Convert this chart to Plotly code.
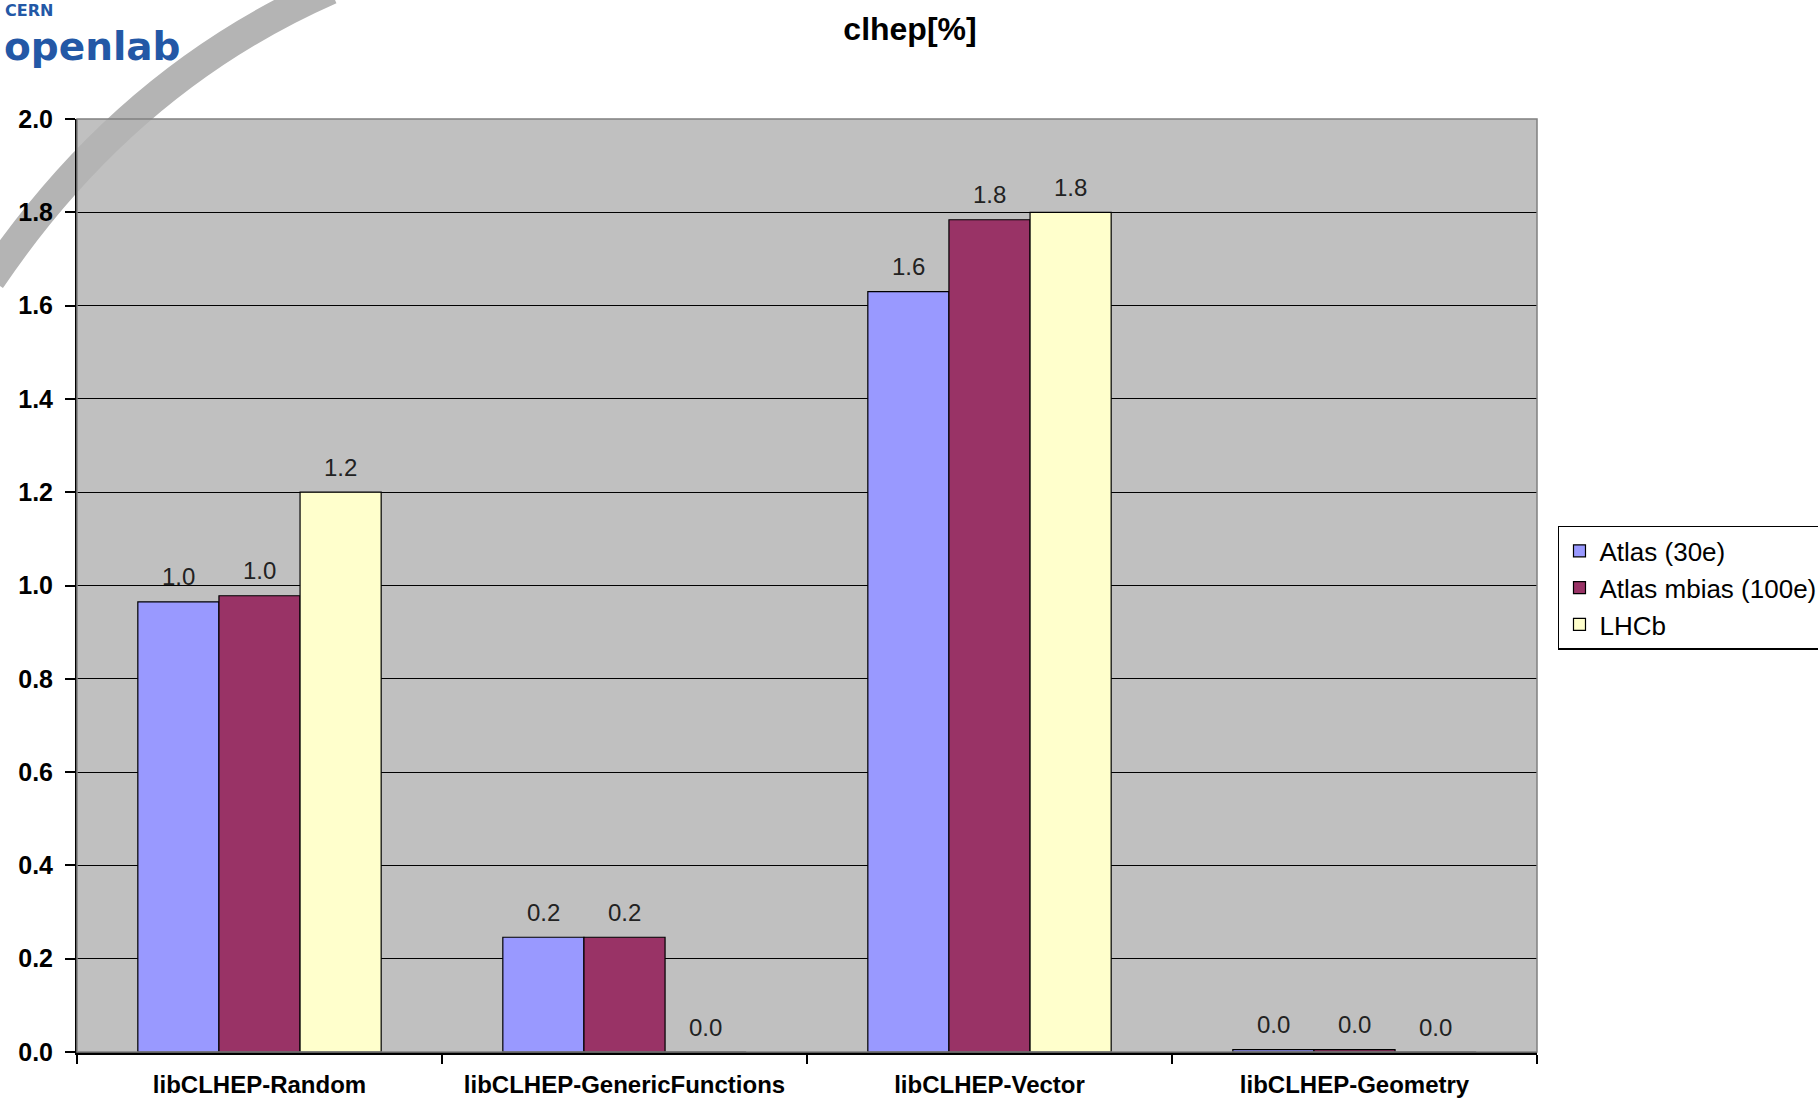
import plotly.graph_objects as go

categories = ["libCLHEP-Random", "libCLHEP-GenericFunctions", "libCLHEP-Vector", "libCLHEP-Geometry"]
series_names = ["Atlas (30e)", "Atlas mbias (100e)", "LHCb"]
atlas_30e = [0.965, 0.246, 1.63, 0.005]
atlas_mbias = [0.978, 0.246, 1.784, 0.005]
lhcb = [1.2, 0.0, 1.8, 0.0]
y_ticks = [0.0, 0.2, 0.4, 0.6, 0.8, 1.0, 1.2, 1.4, 1.6, 1.8, 2.0]
colors = ["#9999FF", "#993366", "#FFFFCC"]

W, H = 1818, 1102
L, R, T, B = 76.5, 1537, 119.4, 1051.6
pw, ph = R - L, B - T
bargap = 1.5 / 4.5
bar_px = pw / len(categories) * (1 - bargap) / len(series_names)

def px(x):
    return (x - L) / pw

def py(y):
    return (B - y) / ph

fig = go.Figure()
annotations = []
all_series = [atlas_30e, atlas_mbias, lhcb]
for i, (name, vals, col) in enumerate(zip(series_names, all_series, colors)):
    fig.add_trace(go.Bar(
        x=categories, y=vals, name=name,
        marker=dict(color=col, line=dict(color="black", width=1.2)),
        cliponaxis=False,
    ))
    for cat, v in zip(categories, vals):
        annotations.append(dict(
            x=cat, y=v, xref="x", yref="y", text=f"{v:.1f}", showarrow=False,
            xanchor="center", yanchor="middle",
            xshift=(i - 1) * bar_px, yshift=25,
            font=dict(family="Liberation Sans", size=24, color="#222222"),
        ))

# decorative grey arc (from logo background)
p0 = (330, -10); c = (125, 80); p2 = (-10, 280)
path = f"M {px(p0[0])},{py(p0[1])} Q {px(c[0])},{py(c[1])} {px(p2[0])},{py(p2[1])}"

shapes = [
    dict(type="path", path=path, xref="paper", yref="paper",
         line=dict(color="#B4B4B4", width=30), layer="below"),
    dict(type="rect", xref="paper", yref="paper", x0=0, x1=1, y0=0, y1=1,
         line=dict(color="#808080", width=1.5), layer="above"),
]

annotations += [
    dict(text="CERN", x=px(2), y=py(0), xref="paper", yref="paper",
         xanchor="left", yanchor="top", showarrow=False,
         font=dict(family="DejaVu Sans", size=16, color="#2358A6", weight="bold")),
    dict(text="openlab", x=px(1), y=py(47), xref="paper", yref="paper",
         xanchor="left", yanchor="middle", showarrow=False,
         font=dict(family="DejaVu Sans", size=39, color="#2358A6", weight="bold")),
]

fig.update_layout(
    width=W, height=H,
    margin=dict(l=L, r=W - R, t=T, b=H - B, pad=0, autoexpand=False),
    paper_bgcolor="white", plot_bgcolor="#C0C0C0",
    barmode="group", bargap=bargap, bargroupgap=0,
    title=dict(text="<b>clhep[%]</b>", x=910 / W, xanchor="center",
               y=1 - 29 / H, yanchor="middle",
               font=dict(family="Liberation Sans", size=32, color="black")),
    font=dict(family="Liberation Sans", color="black"),
    showlegend=True,
    legend=dict(x=px(1558), y=py(526), xanchor="left", yanchor="top",
                bgcolor="white", bordercolor="black", borderwidth=1.5,
                font=dict(family="Liberation Sans", size=26, color="black"),
                tracegroupgap=0),
    shapes=shapes, annotations=annotations,
)
fig.update_xaxes(
    automargin=False,
    showgrid=False, showline=True, linecolor="black", linewidth=2.5,
    ticks="outside", tickson="boundaries", ticklen=9, tickwidth=2, tickcolor="black",
    ticklabelstandoff=9,
    tickfont=dict(family="Liberation Sans", size=24, color="black", weight="bold"),
)
fig.update_yaxes(
    automargin=False,
    range=[0, 2.0], tickvals=y_ticks, ticktext=[f"{v:.1f}" for v in y_ticks],
    showgrid=True, gridcolor="black", gridwidth=1.2,
    showline=True, linecolor="black", linewidth=2,
    ticks="outside", ticklen=10, tickwidth=2, tickcolor="black",
    ticklabelstandoff=7, zeroline=False,
    tickfont=dict(family="Liberation Sans", size=25, color="black", weight="bold"),
)

fig.write_html("out.html")
